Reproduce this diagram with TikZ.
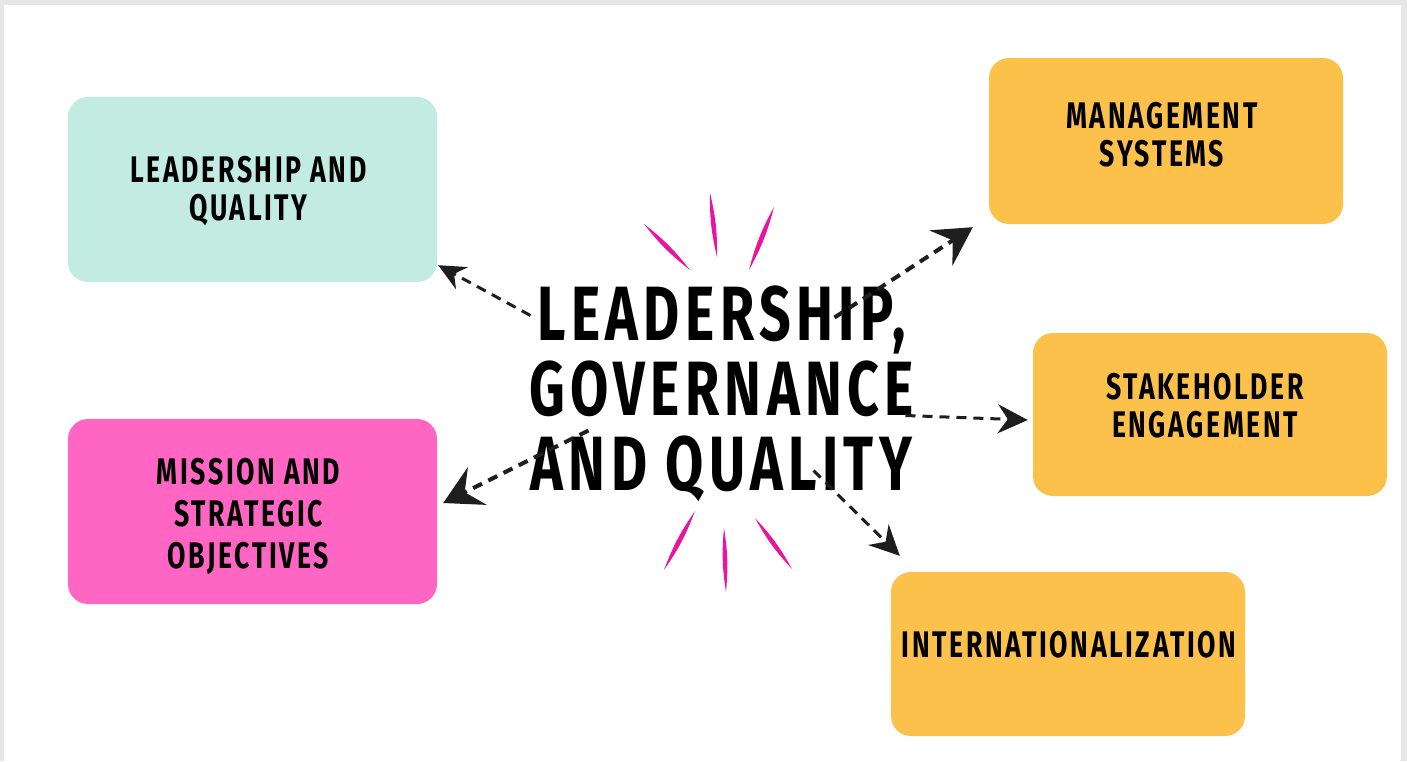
\documentclass[tikz,border=0pt]{standalone}
\usepackage{fontspec}
\setmainfont{Fira Sans}[FakeStretch=0.72, LetterSpace=7]
\usetikzlibrary{arrows.meta}
\definecolor{framegray}{HTML}{E6E6E6}
\definecolor{mintbox}{HTML}{C2EBE2}
\definecolor{pinkbox}{HTML}{FF66C4}
\definecolor{goldbox}{HTML}{FBC14A}
\definecolor{burst}{HTML}{E8159E}
\definecolor{ink}{HTML}{1E1E1E}

\begin{document}
\begin{tikzpicture}[x=1pt, y=-1pt,
    topicbox/.style={rounded corners=20pt, minimum width=369pt, minimum height=185pt, inner sep=0pt},
    goldtopic/.style={topicbox, fill=goldbox, minimum width=354pt, minimum height=166pt},
    topictext/.style={font=\fontsize{37}{38}\selectfont\bfseries, align=center, inner sep=0pt},
    link/.style={draw=ink, line width=3pt, dash pattern=on 10pt off 7pt},
    small tip/.style={-{Stealth[length=27pt, width=25pt, inset=9pt]}},
    mid tip/.style={-{Stealth[length=30pt, width=29pt, inset=10pt]}},
    big tip/.style={line width=4pt, -{Stealth[length=38pt, width=42pt, inset=14pt]}},
    ray/.style={fill=burst}]
    % frame
    \fill [framegray] (0,0) rectangle (1407,761);
    \fill [white] (4,5) rectangle (1401,761);
    \useasboundingbox (0,0) rectangle (1407,761);
    % topic boxes
    \node [topicbox, fill=mintbox] (lq) at (252.5,189.5) {};
    \node [topictext] (lqtext) at ([shift={(-4,2)}]lq) {LEADERSHIP AND\\QUALITY};
    \node [topicbox, fill=pinkbox] (mso) at (252.5,511.5) {};
    \node [topictext, font=\fontsize{37}{42}\selectfont\bfseries] (msotext) at ([shift={(-4,5)}]mso) {MISSION AND\\STRATEGIC\\OBJECTIVES};
    \node [goldtopic] (ms) at (1166,141) {};
    \node [topictext] (mstext) at ([shift={(-4,-6)}]ms) {MANAGEMENT\\SYSTEMS};
    \node [goldtopic, minimum height=163pt] (se) at (1210,414.5) {};
    \node [topictext] (setext) at ([shift={(-5,-9)}]se) {STAKEHOLDER\\ENGAGEMENT};
    \node [goldtopic, minimum height=164pt] (int) at (1068,654) {};
    \node [topictext] (inttext) at ([shift={(1,-9)}]int) {INTERNATIONALIZATION};
    % burst round the title
    \fill [ray] (644,224) to [bend left=7] (690,270) to [bend left=7] (644,224);
    \fill [ray] (710,193) to [bend left=7] (717,257) to [bend left=7] (710,193);
    \fill [ray] (774,207) to [bend left=7] (749,270) to [bend left=7] (774,207);
    \fill [ray] (695,511) to [bend left=7] (664,570) to [bend left=7] (695,511);
    \fill [ray] (724,528) to [bend left=7] (726,592) to [bend left=7] (724,528);
    \fill [ray] (755,518) to [bend left=7] (792,569) to [bend left=7] (755,518);
    % title
    \node [font=\fontsize{77}{75}\selectfont\bfseries, align=center, inner sep=0pt] (title) at (721.5,393.5) {LEADERSHIP,\\GOVERNANCE\\AND QUALITY};
    % connectors
    \draw [link, small tip] ([shift={(-191,-78)}]title.center) -- ([shift={(1,-17)}]lq.south east);
    \draw [link, big tip] ([shift={(113,-76)}]title.center) -- ([shift={(-16,3)}]ms.south west);
    \draw [link, mid tip] ([shift={(184,22)}]title.center) -- ([shift={(-5,5.5)}]se.west);
    \draw [link, big tip] ([shift={(-133,37)}]title.center) -- ([shift={(6,-8.5)}]mso.east);
    \draw [link, mid tip] ([shift={(92,77)}]title.center) -- ([shift={(9,-16)}]int.north west);
\end{tikzpicture}
\end{document}
